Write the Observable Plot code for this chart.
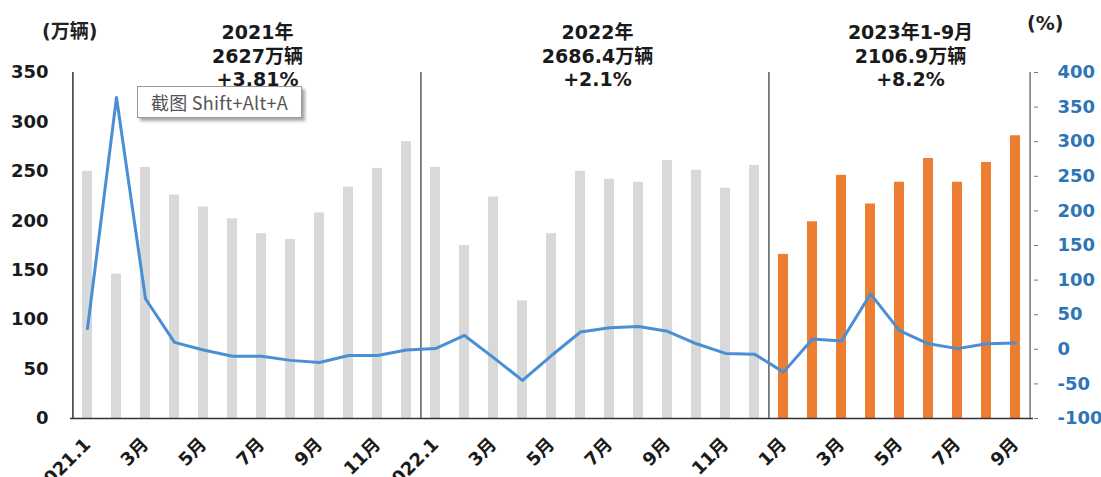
<!DOCTYPE html>
<html>
<head>
<meta charset="utf-8">
<script src="https://cdn.jsdelivr.net/npm/d3@7"></script>
<script src="https://cdn.jsdelivr.net/npm/@observablehq/plot@0.6"></script>
<style>
  body { margin: 0; background: #fff; }
  #wrap { position: relative; width: 1101px; height: 477px; overflow: hidden; font-family: "DejaVu Sans", "Noto Sans CJK SC", sans-serif; }
  .tip { position: absolute; left: 137px; top: 86px; width: 163px; height: 30px; background: #fff; border: 1px solid #9a9a9a;
         box-shadow: 3px 3px 3px rgba(0,0,0,0.35); font-size: 18px; color: #555; line-height: 30px; text-align: center;
         font-family: "Noto Sans CJK SC", "DejaVu Sans", sans-serif; white-space: nowrap; letter-spacing: 0.3px; }
  .unit { position: absolute; font-weight: bold; color: #222; font-size: 19px; font-family: "DejaVu Sans", "Noto Sans CJK SC", sans-serif; }
</style>
</head>
<body>
<div id="wrap"></div>
<script>
// ---- data ----
const months = [
  "2021-01","2021-02","2021-03","2021-04","2021-05","2021-06","2021-07","2021-08","2021-09","2021-10","2021-11","2021-12",
  "2022-01","2022-02","2022-03","2022-04","2022-05","2022-06","2022-07","2022-08","2022-09","2022-10","2022-11","2022-12",
  "2023-01","2023-02","2023-03","2023-04","2023-05","2023-06","2023-07","2023-08","2023-09"
];
const tickLabels = [
  "2021.1","","3月","","5月","","7月","","9月","","11月","",
  "2022.1","","3月","","5月","","7月","","9月","","11月","",
  "1月","","3月","","5月","","7月","","9月"
];
// monthly sales (万辆)
const sales2021 = [250, 146, 254, 226, 214, 202, 187, 181, 208, 234, 253, 280];
const sales2022 = [254, 175, 224, 119, 187, 250, 242, 239, 261, 251, 233, 256];
const sales2023 = [166, 199, 246, 217, 239, 263, 239, 259, 286];
// year-on-year growth (%)
const growth2021 = [30, 364, 73, 10, -1, -10, -10, -16, -19, -9, -9, -1];
const growth2022 = [1, 20, -12, -45, -9, 25, 31, 33, 26, 8, -6, -7];
const growth2023 = [-33, 15, 12, 80, 27, 8, 1, 8, 9];
// left / right axis ticks
const leftTicks = [0, 50, 100, 150, 200, 250, 300, 350];
const rightTicks = [-100, -50, 0, 50, 100, 150, 200, 250, 300, 350, 400];
// period annotations
const periodNotes = [
  {month: "2021-07", text: "2021年\n2627万辆\n+3.81%"},
  {month: "2022-07", text: "2022年\n2686.4万辆\n+2.1%"},
  {month: "2023-05", text: "2023年1-9月\n2106.9万辆\n+8.2%"}
];

// ---- build table ----
const sales = [...sales2021, ...sales2022, ...sales2023];
const growth = [...growth2021, ...growth2022, ...growth2023];
const rows = months.map((m, i) => ({month: m, year: m.slice(0, 4), sales: sales[i], growth: growth[i]}));
const labelOf = new Map(months.map((m, i) => [m, tickLabels[i]]));

// right axis (%) mapped onto left scale: -100..400  ->  0..350
const toLeft = g => (g + 100) * 350 / 500;
const toRight = v => Math.round(v * 500 / 350 - 100);

const W = 1101, H = 477;
const mL = 70, mR = 68, mT = 72, mB = 59;
const step = (W - mL - mR) / months.length;

const font = '"DejaVu Sans", "Noto Sans CJK SC", sans-serif';
const blue = "#2E75B6";
const noteStyle = {x: "month", text: "text", frameAnchor: "top", lineAnchor: "top", dy: -50,
  fontSize: 19, fontWeight: "bold", fill: "#1a1a1a", lineHeight: 1.24};

const chart = Plot.plot({
  width: W,
  height: H,
  marginLeft: mL,
  marginRight: mR,
  marginTop: mT,
  marginBottom: mB,
  style: {fontFamily: font, background: "transparent", overflow: "visible"},
  x: {type: "band", domain: months, paddingInner: 0.65, paddingOuter: 0.325, axis: null},
  y: {domain: [0, 350], axis: null},
  marks: [
    Plot.barY(rows.filter(d => d.year !== "2023"), {x: "month", y: "sales", fill: "#D9D9D9"}),
    Plot.barY(rows.filter(d => d.year === "2023"), {x: "month", y: "sales", fill: "#ED7D31"}),
    // period dividers + side axis lines
    Plot.ruleX(["2022-01", "2023-01"], {dx: -step / 2, stroke: "#444", strokeWidth: 1.3}),
    Plot.ruleX(["2021-01"], {dx: -step / 2, stroke: "#333", strokeWidth: 1.5}),
    Plot.ruleX(["2023-09"], {dx: step / 2, stroke: "#777", strokeWidth: 1.5}),
    Plot.ruleY([0], {stroke: "#333", strokeWidth: 1.5}),
    // growth line
    Plot.line(rows, {x: "month", y: d => toLeft(d.growth), stroke: "#4A8FD4", strokeWidth: 3, strokeLinejoin: "round"}),
    // axes
    Plot.axisY(leftTicks, {anchor: "left", label: null, tickSize: 0, tickPadding: 22, fontSize: 18, fontWeight: "bold", fill: "#1a1a1a"}),
    Plot.axisY(rightTicks.map(toLeft), {anchor: "right", label: null, tickSize: 4, tickPadding: 20, stroke: "#777",
      tickFormat: toRight, fontSize: 18, fontWeight: "bold", fill: blue}),
    Plot.axisX(months.filter((m, i) => tickLabels[i] !== ""), {anchor: "bottom", label: null, tickSize: 0, tickPadding: 23,
      tickRotate: -45, tickFormat: d => labelOf.get(d), fontSize: 18, fontWeight: "bold", fill: "#1a1a1a"}),
    // annotations
    Plot.text([periodNotes[0]], {...noteStyle, dx: -4}),
    Plot.text([periodNotes[1]], {...noteStyle, dx: -12}),
    Plot.text([periodNotes[2]], {...noteStyle, dx: 11})
  ]
});

const wrap = document.getElementById("wrap");
wrap.appendChild(chart);

const u1 = document.createElement("div");
u1.className = "unit"; u1.textContent = "(万辆)";
u1.style.left = "42px"; u1.style.top = "16px";
wrap.appendChild(u1);

const u2 = document.createElement("div");
u2.className = "unit"; u2.textContent = "(%)";
u2.style.left = "1027px"; u2.style.top = "12px";
wrap.appendChild(u2);

const tip = document.createElement("div");
tip.className = "tip"; tip.textContent = "截图 Shift+Alt+A";
wrap.appendChild(tip);
</script>
</body>
</html>
